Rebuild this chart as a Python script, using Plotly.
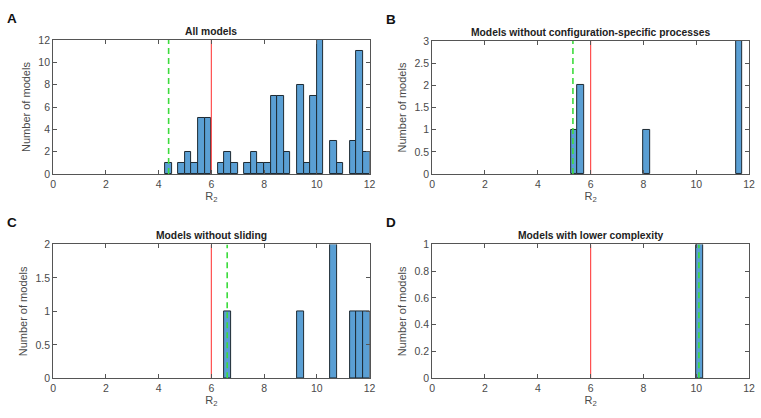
import plotly.graph_objects as go

# histogram bins are 0.25 wide; left edge of each non-empty bin and its count
bin_width = 0.25

all_left = [4.25, 4.75, 5.0, 5.25, 5.5, 5.75, 6.25, 6.5, 6.75, 7.25, 7.5, 7.75, 8.0,
            8.25, 8.5, 8.75, 9.25, 9.5, 9.75, 10.0, 10.5, 10.75, 11.25, 11.5, 11.75]
all_count = [1, 1, 2, 1, 5, 5, 1, 2, 1, 1, 2, 1, 1, 7, 7, 2, 8, 1, 7, 12, 3, 1, 3, 11, 2]

noconf_left = [5.25, 5.5, 8.0, 11.5]
noconf_count = [1, 2, 1, 3]

noslide_left = [6.5, 9.25, 10.5, 11.25, 11.5, 11.75]
noslide_count = [1, 1, 2, 1, 1, 1]

lowcx_left = [10.0]
lowcx_count = [1]

red_line = [6.0, 6.0, 6.0, 6.0]
green_line = [4.38, 5.33, 6.6, 10.1]

titles = ["All models", "Models without configuration-specific processes",
          "Models without sliding", "Models with lower complexity"]
letters = ["A", "B", "C", "D"]
y_max = [12, 3, 2, 1]
y_step = [2, 0.5, 0.5, 0.2]
x_ticks = [0, 2, 4, 6, 8, 10, 12]

panels = [(all_left, all_count), (noconf_left, noconf_count),
          (noslide_left, noslide_count), (lowcx_left, lowcx_count)]

W, H = 761, 418
# pixel boxes of the four plot areas: (left, right, top, bottom)
boxes = [(50.7, 371, 35, 173), (434.3, 755, 36, 173),
         (50.7, 371, 245.5, 383.3), (434.3, 755, 245.5, 383.3)]

font = "Liberation Sans, Arial, sans-serif"
fig = go.Figure()
layout = {}
for i, (left, count) in enumerate(panels):
    n = "" if i == 0 else str(i + 1)
    xa, ya = "x" + n, "y" + n
    l, r, t, b = boxes[i]
    fig.add_trace(go.Bar(
        x=[e + bin_width / 2 for e in left], y=count, width=bin_width,
        marker=dict(color="#5a9fd4", line=dict(color="#1e2a33", width=1)),
        xaxis=xa, yaxis=ya, showlegend=False))
    fig.add_trace(go.Scatter(
        x=[red_line[i]] * 2, y=[0, y_max[i]], mode="lines",
        line=dict(color="#ff4f4f", width=1.2), xaxis=xa, yaxis=ya, showlegend=False))
    fig.add_trace(go.Scatter(
        x=[green_line[i]] * 2, y=[0, y_max[i]], mode="lines",
        line=dict(color="#3ddc3d", width=1.6, dash="6px,4px"),
        xaxis=xa, yaxis=ya, showlegend=False))
    axis_style = dict(showline=True, linecolor="#555555", linewidth=1, mirror="allticks",
                      ticks="inside", ticklen=4, tickcolor="#555555", showgrid=False,
                      zeroline=False, ticklabeloverflow="allow",
                      tickfont=dict(size=10.5, color="#4a4a4a", family=font))
    layout["xaxis" + n] = dict(axis_style, domain=[l / W, r / W], anchor=ya,
                               range=[0, 12], tickvals=x_ticks,
                               title=dict(text="R<sub>2</sub>", standoff=1,
                                          font=dict(size=11, color="#4a4a4a", family=font)))
    layout["yaxis" + n] = dict(axis_style, domain=[1 - b / H, 1 - t / H], anchor=xa,
                               range=[0, y_max[i]], dtick=y_step[i],
                               title=dict(text="Number of models", standoff=5,
                                          font=dict(size=11, color="#4a4a4a", family=font)))
    fig.add_annotation(x=(l + r) / 2 / W, y=1 - (t - 1) / H, xref="paper", yref="paper",
                       text="<b>" + titles[i] + "</b>", showarrow=False,
                       xanchor="center", yanchor="bottom",
                       font=dict(size=10.3, color="#222222", family=font))
    fig.add_annotation(x=(l - 49) / W, y=1 - (t - 32) / H, xref="paper", yref="paper",
                       text="<b>" + letters[i] + "</b>", showarrow=False,
                       xanchor="left", yanchor="top",
                       font=dict(size=13.5, color="#111111", family=font))

fig.update_layout(**layout)
fig.update_layout(width=W, height=H, margin=dict(l=0, r=0, t=0, b=0),
                  plot_bgcolor="white", paper_bgcolor="white", bargap=0)
fig.write_html("out.html", config={"displayModeBar": False},
               post_script="document.body.style.margin='0';")
